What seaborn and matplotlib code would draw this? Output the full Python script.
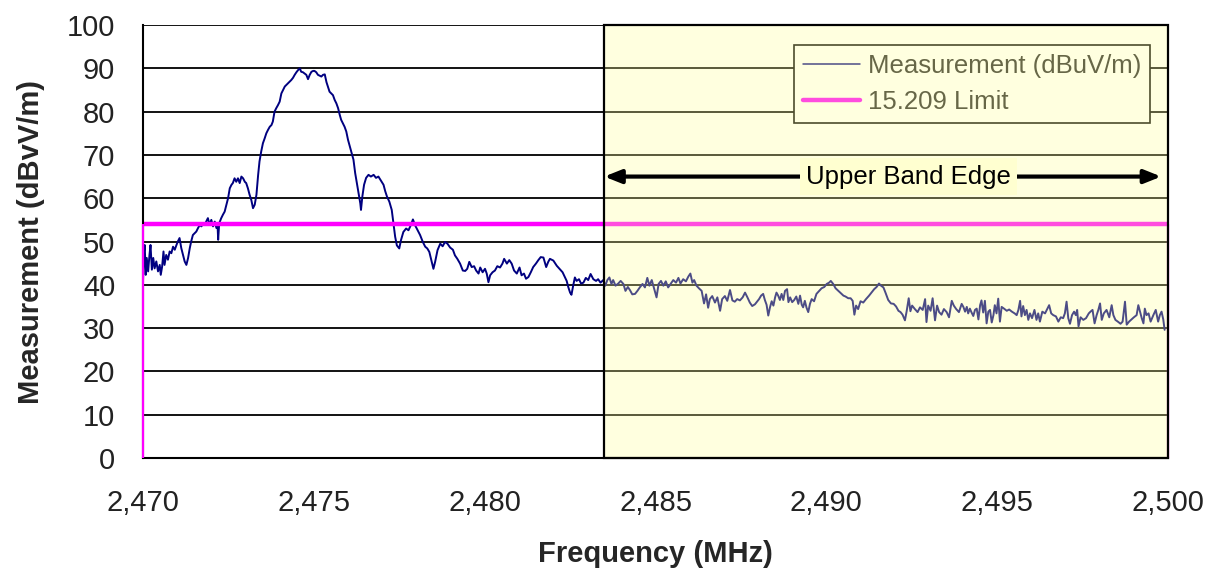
import matplotlib
matplotlib.use("Agg")
import matplotlib.pyplot as plt
from matplotlib.patches import Rectangle
from matplotlib.lines import Line2D
from matplotlib.ticker import FuncFormatter
import numpy as np
import pandas as pd
import seaborn as sns

# ---- measured field strength trace, split into consecutive sweeps ----
freq_a = [2470.00, 2470.03, 2470.05, 2470.08, 2470.11, 2470.15, 2470.19, 2470.22, 2470.26, 2470.30,
          2470.34, 2470.39, 2470.44, 2470.49, 2470.52, 2470.56, 2470.60, 2470.63, 2470.68, 2470.73,
          2470.78, 2470.83, 2470.88, 2470.93, 2470.98, 2471.02, 2471.07, 2471.12, 2471.17, 2471.22,
          2471.27, 2471.32, 2471.37, 2471.41, 2471.46, 2471.51, 2471.56, 2471.61, 2471.66, 2471.71,
          2471.76, 2471.80, 2471.85, 2471.90, 2471.95, 2472.00, 2472.05, 2472.10, 2472.15, 2472.18,
          2472.20, 2472.23, 2472.29, 2472.34, 2472.39, 2472.44, 2472.49, 2472.54, 2472.59, 2472.63,
          2472.68, 2472.73, 2472.78, 2472.83, 2472.88, 2472.93, 2472.98, 2473.02, 2473.07, 2473.12,
          2473.17, 2473.22, 2473.27, 2473.32, 2473.37, 2473.41, 2473.46, 2473.51, 2473.56, 2473.61,
          2473.66, 2473.71, 2473.76, 2473.80, 2473.85, 2473.90, 2473.95, 2474.00, 2474.05, 2474.10,
          2474.15, 2474.20, 2474.24, 2474.29, 2474.34, 2474.39, 2474.44, 2474.49, 2474.54, 2474.59,
          2474.63, 2474.68, 2474.73, 2474.78, 2474.83, 2474.88, 2474.93, 2474.98, 2475.02, 2475.07,
          2475.12, 2475.17, 2475.22, 2475.27, 2475.32, 2475.37, 2475.41, 2475.46, 2475.51, 2475.56,
          2475.61, 2475.66, 2475.71, 2475.76, 2475.80, 2475.85, 2475.90, 2475.95, 2476.00]
level_a = [40.8, 47.7, 49.2, 42.3, 46.2, 43.1, 46.9, 49.2, 43.5, 46.2,
           43.8, 45.4, 43.1, 44.6, 42.3, 44.2, 47.7, 44.6, 46.9, 45.8,
           47.7, 47.3, 48.8, 48.1, 49.2, 50.0, 50.8, 48.5, 46.9, 45.4,
           44.6, 46.2, 48.5, 50.0, 51.5, 51.9, 52.3, 53.1, 53.8, 53.5,
           54.2, 53.8, 54.6, 55.4, 53.8, 55.0, 53.5, 54.6, 53.1, 54.2,
           50.4, 54.2, 55.4, 56.2, 56.9, 58.5, 60.0, 62.3, 63.1, 63.5,
           64.6, 63.8, 64.6, 63.5, 65.0, 64.6, 63.8, 63.5, 62.3, 60.8,
           59.6, 57.7, 58.5, 60.8, 65.4, 68.5, 70.8, 72.7, 73.8, 75.0,
           75.8, 76.5, 76.9, 77.7, 80.0, 80.8, 81.5, 82.3, 84.2, 85.0,
           85.8, 86.2, 86.5, 86.9, 87.3, 87.8, 88.5, 89.1, 89.6, 90.0,
           89.2, 89.1, 88.8, 88.5, 87.5, 88.5, 89.2, 89.4, 89.4, 89.1,
           88.5, 88.3, 88.1, 88.5, 88.6, 86.8, 85.8, 84.6, 84.2, 83.8,
           82.7, 81.9, 80.8, 79.2, 78.1, 77.3, 76.5, 75.4, 73.5]

freq_b = [2476.16, 2476.21, 2476.26, 2476.31, 2476.36, 2476.38, 2476.42, 2476.47, 2476.53, 2476.60,
          2476.67, 2476.75, 2476.82, 2476.89, 2476.96, 2477.04, 2477.09, 2477.14, 2477.21, 2477.28,
          2477.33, 2477.38, 2477.43, 2477.50, 2477.55, 2477.62, 2477.70, 2477.77, 2477.84, 2477.90,
          2477.96, 2478.04, 2478.11, 2478.19, 2478.26, 2478.32, 2478.38, 2478.43, 2478.50, 2478.55,
          2478.62, 2478.70, 2478.77, 2478.84, 2478.91, 2478.99, 2479.07, 2479.13, 2479.20, 2479.28,
          2479.36, 2479.43, 2479.49, 2479.55, 2479.62, 2479.69, 2479.75, 2479.82, 2479.87, 2479.94,
          2480.01, 2480.06, 2480.11, 2480.16, 2480.23, 2480.30, 2480.37, 2480.45, 2480.52, 2480.57,
          2480.65, 2480.72, 2480.79, 2480.86, 2480.94, 2481.02, 2481.08, 2481.15, 2481.21, 2481.28,
          2481.35, 2481.42, 2481.50, 2481.57, 2481.64, 2481.72, 2481.80, 2481.86]
level_b = [68.9, 65.8, 63.5, 61.2, 58.8, 57.3, 60.4, 63.1, 64.7, 65.4,
           65.0, 65.4, 64.7, 65.0, 64.1, 63.1, 61.6, 60.4, 59.2, 57.3,
           54.2, 51.1, 49.1, 48.4, 50.3, 52.2, 53.0, 52.6, 53.8, 55.1,
           53.8, 52.6, 51.5, 49.9, 48.8, 48.4, 47.6, 46.0, 43.7, 45.3,
           48.0, 49.5, 48.9, 49.9, 49.5, 48.6, 48.1, 46.8, 46.0, 44.9,
           43.3, 43.2, 43.7, 45.3, 44.1, 44.3, 43.3, 42.6, 44.0, 42.9,
           43.7, 42.6, 40.6, 42.2, 42.9, 43.3, 44.3, 44.0, 44.9, 46.0,
           44.9, 45.7, 44.9, 43.3, 42.6, 44.0, 42.2, 42.6, 41.4, 41.8,
           42.9, 44.1, 44.9, 45.7, 46.4, 46.3, 44.1, 45.3]

freq_c = [2481.91, 2482.01, 2482.11, 2482.20, 2482.28, 2482.35, 2482.40, 2482.45, 2482.50, 2482.54,
          2482.59, 2482.64, 2482.69, 2482.76, 2482.82, 2482.89, 2482.96, 2483.03, 2483.10, 2483.18,
          2483.26, 2483.32, 2483.39, 2483.47, 2483.53, 2483.59, 2483.65, 2483.71, 2483.76, 2483.83,
          2483.91, 2483.98, 2484.06, 2484.12, 2484.19, 2484.25, 2484.32, 2484.40, 2484.47, 2484.54,
          2484.62, 2484.69, 2484.76, 2484.82, 2484.89, 2484.95, 2485.03, 2485.09, 2485.16, 2485.23,
          2485.30, 2485.37, 2485.44, 2485.52, 2485.60, 2485.67, 2485.73, 2485.81, 2485.89, 2485.96,
          2486.02, 2486.08, 2486.13, 2486.20, 2486.27, 2486.35, 2486.42, 2486.48, 2486.54, 2486.59,
          2486.66, 2486.74, 2486.81, 2486.89, 2486.95, 2487.03, 2487.10, 2487.18, 2487.25, 2487.32,
          2487.39, 2487.47, 2487.55, 2487.62, 2487.69, 2487.76, 2487.83, 2487.91]
level_c = [46.0, 45.6, 44.4, 43.6, 42.9, 41.7, 40.9, 39.4, 38.2, 37.7,
           39.8, 41.7, 40.9, 41.3, 40.3, 40.5, 41.6, 41.1, 42.5, 41.3,
           40.9, 41.3, 40.5, 41.1, 39.8, 41.1, 41.7, 40.2, 41.1, 39.8,
           40.3, 40.9, 40.2, 38.6, 39.5, 38.8, 37.8, 37.9, 38.6, 39.4,
           40.2, 39.4, 41.6, 39.8, 41.1, 39.4, 37.1, 40.2, 40.9, 39.8,
           40.8, 39.4, 40.2, 41.1, 40.5, 41.6, 40.3, 41.3, 40.8, 41.9,
           42.6, 40.5, 41.1, 39.8, 39.2, 38.6, 35.7, 37.8, 34.7, 36.7,
           37.4, 35.9, 37.1, 34.0, 36.7, 37.4, 36.3, 38.8, 36.4, 36.1,
           36.7, 36.4, 37.1, 38.2, 37.1, 35.9, 35.1, 35.5]

freq_d = [2487.96, 2488.03, 2488.09, 2488.15, 2488.20, 2488.25, 2488.30, 2488.35, 2488.40, 2488.45,
          2488.50, 2488.54, 2488.59, 2488.64, 2488.69, 2488.74, 2488.79, 2488.85, 2488.89, 2488.94,
          2489.00, 2489.06, 2489.12, 2489.18, 2489.23, 2489.28, 2489.32, 2489.37, 2489.42, 2489.47,
          2489.52, 2489.57, 2489.64, 2489.71, 2489.78, 2489.86, 2489.94, 2490.01, 2490.08, 2490.13,
          2490.20, 2490.27, 2490.35, 2490.43, 2490.50, 2490.56, 2490.64, 2490.71, 2490.77, 2490.82,
          2490.87, 2490.93, 2491.00, 2491.08, 2491.16, 2491.25, 2491.32, 2491.40, 2491.47, 2491.54,
          2491.60, 2491.67, 2491.73, 2491.81, 2491.89, 2491.97, 2492.04, 2492.11, 2492.17, 2492.23,
          2492.30, 2492.35, 2492.41, 2492.46, 2492.51, 2492.59, 2492.67, 2492.74, 2492.82, 2492.89,
          2492.93, 2492.98, 2493.05, 2493.11, 2493.18, 2493.24, 2493.30, 2493.37, 2493.44, 2493.52,
          2493.59, 2493.67, 2493.73, 2493.80, 2493.88]
level_d = [36.0, 36.7, 37.5, 37.9, 36.5, 35.4, 32.9, 34.8, 36.2, 35.2,
           37.1, 38.2, 37.5, 36.5, 37.9, 36.5, 38.6, 39.0, 36.0, 37.1,
           36.0, 36.5, 37.3, 35.6, 37.5, 35.4, 34.8, 36.3, 34.7, 33.7,
           35.6, 36.7, 36.2, 37.9, 38.5, 39.2, 39.5, 40.2, 40.5, 40.9,
           40.2, 39.2, 38.6, 38.0, 37.5, 37.3, 36.9, 36.9, 36.3, 33.1,
           35.2, 34.4, 36.2, 35.9, 36.7, 37.5, 38.2, 39.0, 39.5, 40.3,
           39.8, 39.4, 38.2, 36.5, 35.7, 35.6, 35.0, 34.0, 33.7, 33.1,
           31.8, 33.9, 36.9, 33.9, 35.2, 34.4, 33.7, 34.8, 34.2, 36.7,
           31.4, 35.2, 34.0, 36.9, 31.8, 35.2, 33.7, 33.1, 34.4, 33.7,
           32.5, 36.3, 35.2, 34.4, 33.7]

freq_e = [2493.96, 2494.01, 2494.06, 2494.11, 2494.15, 2494.20, 2494.25, 2494.30, 2494.35, 2494.40,
          2494.45, 2494.50, 2494.54, 2494.59, 2494.64, 2494.69, 2494.74, 2494.79, 2494.84, 2494.89,
          2494.93, 2494.98, 2495.03, 2495.08, 2495.13, 2495.20, 2495.28, 2495.35, 2495.43, 2495.51,
          2495.57, 2495.62, 2495.67, 2495.71, 2495.76, 2495.81, 2495.86, 2495.91, 2495.96, 2496.02,
          2496.09, 2496.15, 2496.20, 2496.25, 2496.32, 2496.40, 2496.47, 2496.52, 2496.58, 2496.64,
          2496.72, 2496.79, 2496.86, 2496.93, 2496.98, 2497.03, 2497.08, 2497.13, 2497.19, 2497.25,
          2497.30, 2497.34, 2497.38, 2497.44, 2497.52, 2497.60, 2497.68, 2497.73, 2497.79, 2497.85,
          2497.91, 2497.96, 2498.01, 2498.06, 2498.12, 2498.20, 2498.28, 2498.35, 2498.40, 2498.46,
          2498.53, 2498.61, 2498.67, 2498.74, 2498.79, 2498.86, 2498.93, 2499.00, 2499.08, 2499.13,
          2499.18, 2499.23, 2499.28, 2499.32, 2499.37, 2499.43, 2499.49, 2499.57, 2499.64, 2499.71,
          2499.76, 2499.81, 2499.86, 2499.90]
level_e = [35.6, 34.9, 33.8, 34.9, 33.4, 34.5, 33.6, 32.8, 34.2, 34.5,
           32.0, 35.3, 36.4, 33.6, 36.3, 31.1, 33.8, 34.2, 31.3, 33.0,
           35.3, 33.4, 36.8, 31.5, 34.9, 34.5, 34.0, 34.3, 33.8, 33.4,
           33.0, 34.2, 36.3, 32.7, 35.1, 33.0, 34.2, 31.9, 33.4, 32.3,
           34.2, 31.9, 33.4, 31.5, 33.8, 33.4, 34.5, 35.3, 33.4, 33.0,
           32.7, 31.5, 32.5, 32.3, 33.4, 36.1, 32.3, 31.0, 33.0, 33.8,
           33.0, 34.2, 30.4, 32.5, 31.9, 32.3, 33.4, 33.8, 34.2, 31.1,
           33.0, 34.2, 35.7, 31.9, 33.4, 34.2, 32.5, 35.3, 33.0, 31.9,
           31.5, 31.0, 31.5, 36.1, 30.8, 31.5, 32.0, 32.5, 33.0, 35.3,
           33.8, 32.3, 31.1, 34.5, 33.0, 33.4, 31.5, 33.0, 34.2, 31.5,
           33.0, 33.8, 32.0, 29.6]

# ---- regulatory limit and band definitions ----
limit_level = 54.0
span_start, span_stop = 2470.0, 2500.0
band_edge = 2483.5
x_ticks = [2470, 2475, 2480, 2485, 2490, 2495, 2500]
y_ticks = [0, 10, 20, 30, 40, 50, 60, 70, 80, 90, 100]
series_labels = ["Measurement (dBuV/m)", "15.209 Limit"]
band_label = "Upper Band Edge"
band_label_level = 65.0

trace = pd.DataFrame({
    "freq": np.concatenate([freq_a, freq_b, freq_c, freq_d, freq_e]),
    "level": np.concatenate([level_a, level_b, level_c, level_d, level_e]),
})

sns.set_style("white")
plt.rcParams["font.family"] = ["Liberation Sans", "DejaVu Sans"]

fig = plt.figure(figsize=(12.19, 5.78), dpi=100)
ax = fig.add_axes([0.1173, 0.2076, 0.8409, 0.7491])

# measurement trace
sns.lineplot(data=trace, x="freq", y="level", ax=ax, color="#000080",
             linewidth=1.4, estimator=None, sort=False, legend=False, zorder=2)

# limit line with its end drops
ax.plot([span_start, span_stop], [limit_level, limit_level], color="#FF00FF",
        linewidth=3.2, solid_capstyle="butt", zorder=2.2)
ax.vlines([span_start, span_stop], 0, limit_level, color="#FF00FF",
          linewidth=1.6, zorder=2.6, clip_on=False)

ax.set_xlim(span_start, span_stop)
ax.set_ylim(0, 100)
ax.set_xticks(x_ticks)
ax.set_yticks(y_ticks)
ax.xaxis.set_major_formatter(FuncFormatter(lambda v, p: f"{v:,.0f}"))

ax.set_axisbelow(True)
ax.yaxis.grid(True, color="black", linewidth=1.3)
ax.xaxis.grid(False)

for side in ("top", "right"):
    ax.spines[side].set_visible(False)
for side in ("left", "bottom"):
    ax.spines[side].set_color("black")
    ax.spines[side].set_linewidth(1.5)

ax.tick_params(axis="both", direction="out", length=8, width=1.3, color="black",
               labelsize=21, labelcolor="#222222")
ax.tick_params(axis="y", pad=12)
ax.tick_params(axis="x", pad=14)

ax.set_xlabel("Frequency (MHz)", fontsize=21, fontweight="bold")
ax.set_ylabel("Measurement (dBvV/m)", fontsize=21, fontweight="bold")
ax.xaxis.set_label_coords(0.5, -0.19)
ax.yaxis.set_label_coords(-0.096, 0.5)

# legend sits under the tinted band overlay
handles = [Line2D([], [], color="#000080", linewidth=1.1),
           Line2D([], [], color="#FF00FF", linewidth=3.2)]
leg = ax.legend(handles, series_labels, loc="upper right",
                bbox_to_anchor=(0.9824, 0.9538), borderaxespad=0,
                fontsize=18.5, frameon=True, fancybox=False, framealpha=1,
                facecolor="white", edgecolor="black", handlelength=2.2,
                handletextpad=0.3, labelspacing=0.45, borderpad=0.35)
leg.get_frame().set_linewidth(1.2)
leg.set_zorder(2.8)

# translucent band above the band edge
band = Rectangle((band_edge, 0), span_stop - band_edge, 100,
                 facecolor=(1.0, 1.0, 0.59, 0.3), edgecolor="black",
                 linewidth=1.6, zorder=3, clip_on=False)
ax.add_patch(band)

ax.annotate("", xy=(band_edge, band_label_level), xytext=(span_stop - 0.2, band_label_level),
            arrowprops=dict(arrowstyle="<|-|>,head_length=1.0,head_width=0.4",
                            color="black", lw=3, shrinkA=0, shrinkB=0),
            zorder=4)
ax.text(2492.4, band_label_level, band_label, ha="center", va="center",
        fontsize=18.5, color="black", zorder=5,
        bbox=dict(boxstyle="square,pad=0.25", facecolor="#FFFFD0", edgecolor="none"))

fig.savefig("out.png", dpi=100)
